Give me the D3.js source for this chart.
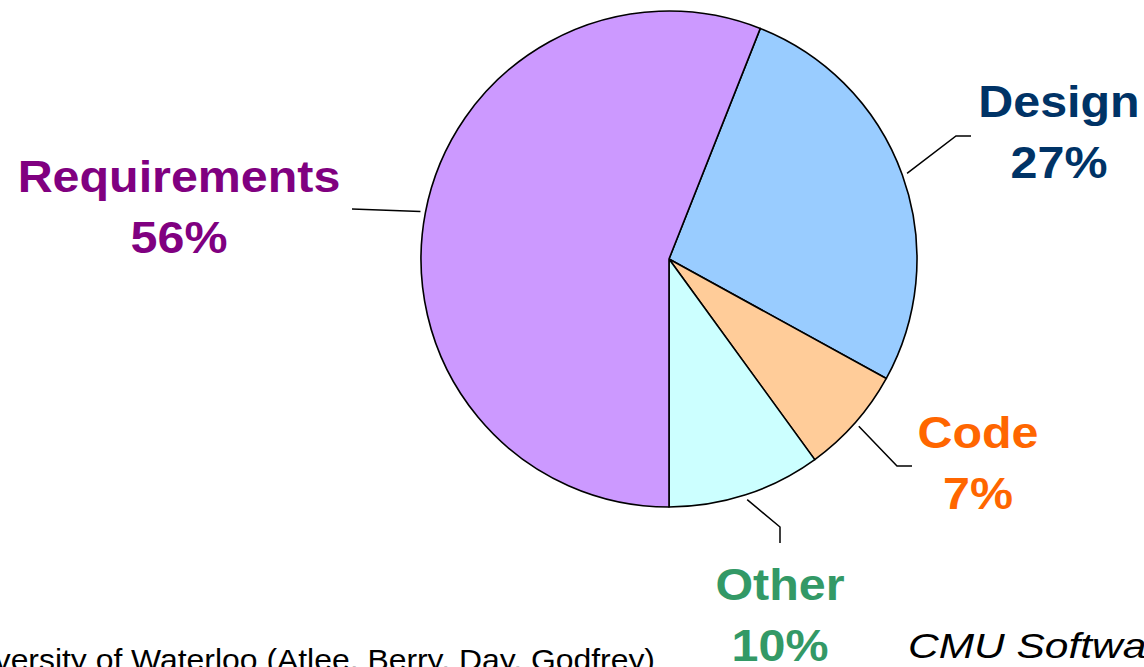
<!DOCTYPE html>
<html>
<head>
<meta charset="utf-8">
<script src="https://cdn.jsdelivr.net/npm/d3@7"></script>
<style>
  html, body { margin: 0; padding: 0; background: #fff; overflow: hidden; }
  svg { display: block; }
</style>
</head>
<body>
<svg id="chart" width="1144" height="667"></svg>
<script>
// Share of defects by origin phase
const categories = ["Design", "Code", "Other", "Requirements"];
const shares = [27, 7, 10, 56];
const pctLabels = ["27%", "7%", "10%", "56%"];

// Slice fills and label colours, per category
const fills = ["#99CCFF", "#FFCC99", "#CCFFFF", "#CC99FF"];
const labelColors = ["#003366", "#FF6600", "#339966", "#800080"];

// Label placement: text centre, first baseline, and leader-line path after the arc
const labelLayout = [
  { cx: 1059, y: 117, leader: [[956, 136], [971, 136]] },
  { cx: 978,  y: 448, leader: [[897, 466], [912, 466]] },
  { cx: 780,  y: 600, leader: [[780, 527], [780, 543]] },
  { cx: 179,  y: 192, leader: [[352, 209]] }
];

const svg = d3.select("#chart");
const cx = 669, cy = 259, radius = 248;

const start = 0.06 * 2 * Math.PI;
const pie = d3.pie().sort(null).value(d => d)
  .startAngle(start).endAngle(start + 2 * Math.PI);
const arcs = pie(shares);
const arc = d3.arc().innerRadius(0).outerRadius(radius);

const g = svg.append("g").attr("transform", `translate(${cx},${cy})`);

g.selectAll("path.slice")
  .data(arcs)
  .join("path")
  .attr("class", "slice")
  .attr("d", arc)
  .attr("fill", (d, i) => fills[i])
  .attr("stroke", "#000")
  .attr("stroke-width", 1.6)
  .attr("stroke-linejoin", "round");

// Leader lines from just outside each slice's mid-angle
const line = d3.line();
arcs.forEach((d, i) => {
  const mid = (d.startAngle + d.endAngle) / 2;
  const r0 = radius + 5;
  const p0 = [cx + r0 * Math.sin(mid), cy - r0 * Math.cos(mid)];
  svg.append("path")
    .attr("d", line([p0, ...labelLayout[i].leader]))
    .attr("fill", "none")
    .attr("stroke", "#000")
    .attr("stroke-width", 1.5);
});

// Category labels (name + percentage), bold and slightly widened
const labelFont = "'Liberation Sans', Arial, Helvetica, sans-serif";
categories.forEach((name, i) => {
  const L = labelLayout[i];
  const t = svg.append("g")
    .attr("transform", `translate(${L.cx},${L.y}) scale(1.1,1)`);
  t.append("text")
    .attr("text-anchor", "middle")
    .attr("font-family", labelFont)
    .attr("font-weight", "bold")
    .attr("font-size", 44)
    .attr("fill", labelColors[i])
    .text(name);
  t.append("text")
    .attr("y", 61)
    .attr("text-anchor", "middle")
    .attr("font-family", labelFont)
    .attr("font-weight", "bold")
    .attr("font-size", 44)
    .attr("fill", labelColors[i])
    .text(pctLabels[i]);
});

// Source credit lines at the bottom, running off the page edges
svg.append("g")
  .attr("transform", "translate(655,670) scale(1.1,1)")
  .append("text")
  .attr("text-anchor", "end")
  .attr("font-family", labelFont)
  .attr("font-size", 29)
  .attr("fill", "#000")
  .text("University of Waterloo (Atlee, Berry, Day, Godfrey)");

svg.append("g")
  .attr("transform", "translate(908,658) scale(1.18,1)")
  .append("text")
  .attr("font-family", labelFont)
  .attr("font-style", "italic")
  .attr("font-size", 36)
  .attr("fill", "#000")
  .text("CMU Software");
</script>
</body>
</html>
